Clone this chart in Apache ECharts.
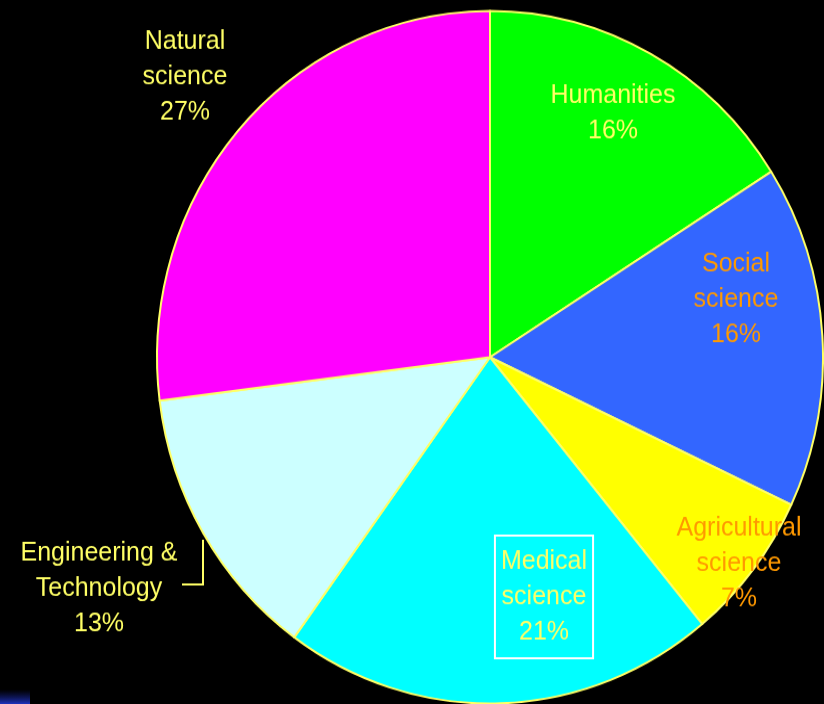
<!DOCTYPE html>
<html>
<head>
<meta charset="utf-8">
<script src="https://cdn.jsdelivr.net/npm/echarts@6/dist/echarts.min.js"></script>
<style>
  html { margin: 0; padding: 0; background: #000; overflow: hidden; }
  body { margin: 0; padding: 0; background: #000; width: 824px; height: 704px; }
  /* the pie is drawn slightly taller than wide */
  #chart { width: 824px; height: 677px; transform: scaleY(1.0399); transform-origin: 0 0; }
</style>
</head>
<body>
<div id="chart"></div>
<script>
const categories = ['Humanities', 'Social\nscience', 'Agricultural\nscience', 'Medical\nscience', 'Engineering &\nTechnology', 'Natural\nscience'];
const shares = [16, 16, 7, 21, 13, 27];
const sliceColors = ['#00FF00', '#3366FF', '#FFFF00', '#00FFFF', '#CCFFFF', '#FF00FF'];
const labelColors = ['#FFFF66', '#FF9900', '#FF9900', '#FFFF66', '#FFFF66', '#FFFF66'];

// label anchor points (chart pixels)
const labelSpots = [[613, 109.5], [736, 288], [739, 542], [544, 574], [99, 566.5], [185, 74]];

const chart = echarts.init(document.getElementById('chart'));

const data = categories.map((name, i) => ({
  name: name,
  value: shares[i],
  itemStyle: { color: sliceColors[i] },
  label: Object.assign(
    { color: labelColors[i] },
    i === 3 ? { borderColor: '#FFFFFF', borderWidth: 2, padding: [8, 6, 8, 6] } : {}
  )
}));

chart.setOption({
  backgroundColor: '#000000',
  animation: false,
  series: [{
    type: 'pie',
    center: [490, 343.5],
    radius: 333,
    startAngle: 90,
    clockwise: true,
    data: data,
    itemStyle: { borderColor: '#FFFF66', borderWidth: 2 },
    label: {
      show: true,
      position: 'inside',
      formatter: '{b}\n{c}%',
      fontFamily: 'Liberation Sans, Arial, sans-serif',
      fontSize: 25,
      lineHeight: 34,
      align: 'center'
    },
    labelLine: { show: false },
    emphasis: { disabled: true },
    labelLayout: function (params) {
      const p = labelSpots[params.dataIndex];
      return { x: p[0], y: p[1], align: 'center', verticalAlign: 'middle' };
    }
  }],
  graphic: [
    {
      type: 'polyline',
      shape: { points: [[203, 519], [203, 562], [182, 562]] },
      style: { stroke: '#FFFF66', lineWidth: 2, fill: null }
    },
    {
      type: 'rect',
      z: -1,
      shape: { x: 0, y: 663, width: 30, height: 14 },
      style: {
        fill: new echarts.graphic.LinearGradient(0, 0, 0, 1, [
          { offset: 0, color: 'rgba(20,30,120,0)' },
          { offset: 1, color: 'rgba(30,50,190,1)' }
        ])
      }
    }
  ]
});
</script>
</body>
</html>
